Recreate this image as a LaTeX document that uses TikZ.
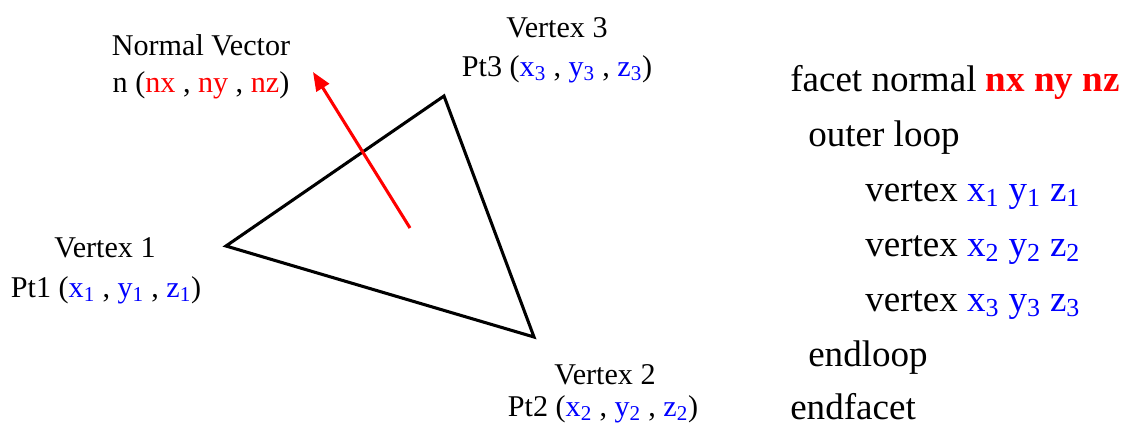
\documentclass[tikz,border=0pt]{standalone}
\usepackage{fontspec}
\setmainfont{Liberation Serif}
\usetikzlibrary{arrows.meta}
\newcommand{\bl}[2]{\textcolor{blue}{#1\textsubscript{#2}}}
\begin{document}
\begin{tikzpicture}[x=0.75pt,y=-0.75pt,
  lbl/.style={font=\fontsize{22.6}{27}\selectfont, align=center, inner sep=0pt},
  code/.style={font=\fontsize{27.8}{32}\selectfont, anchor=base west, inner sep=0pt},
  tri/.style={draw=black, line width=2.3pt, line join=miter},
  nvec/.style={draw=red, line width=2.3pt, -{Triangle[length=14pt,width=11pt]}}]
\useasboundingbox (0,0) rectangle (1124,425);
% triangle
\coordinate (p1) at (226,246);
\coordinate (p2) at (534,337);
\coordinate (p3) at (444,96);
\draw[tri] (p1) -- (p2) -- (p3) -- cycle;
% normal vector
\coordinate (nstart) at (410,228);
\coordinate (ntip) at (313,72);
\draw[nvec] (nstart) -- (ntip);
% labels
\node[lbl] (nvl) at (201,45) {Normal Vector};
\node[lbl] (nvv) at (201,85) {n (\textcolor{red}{nx} , \textcolor{red}{ny} , \textcolor{red}{nz})};
\node[lbl] (v3l) at (557,28) {Vertex 3};
\node[lbl] (v3v) at (557,69) {Pt3 (\bl{x}{3} , \bl{y}{3} , \bl{z}{3})};
\node[lbl] (v1l) at (105,248) {Vertex 1};
\node[lbl] (v1v) at (106,290) {Pt1 (\bl{x}{1} , \bl{y}{1} , \bl{z}{1})};
\node[lbl] (v2l) at (605,375) {Vertex 2};
\node[lbl] (v2v) at (603,409) {Pt2 (\bl{x}{2} , \bl{y}{2} , \bl{z}{2})};
% code
\node[code] (c1) at (790,91) {facet normal \textcolor{red}{\bfseries nx ny nz}};
\node[code] (c2) at (808,146) {outer loop};
\node[code] (c3) at (865,201) {vertex \bl{x}{1} \bl{y}{1} \bl{z}{1}};
\node[code] (c4) at (865,256) {vertex \bl{x}{2} \bl{y}{2} \bl{z}{2}};
\node[code] (c5) at (865,311) {vertex \bl{x}{3} \bl{y}{3} \bl{z}{3}};
\node[code] (c6) at (808,366) {endloop};
\node[code] (c7) at (790,419) {endfacet};
\end{tikzpicture}
\end{document}
